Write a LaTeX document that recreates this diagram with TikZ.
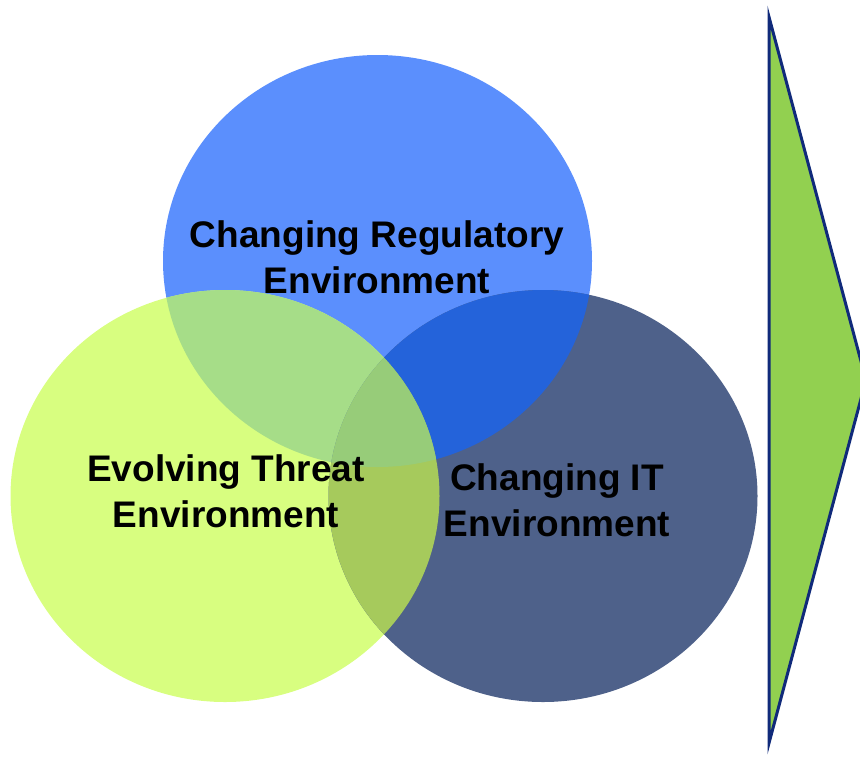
\documentclass[tikz,border=0pt]{standalone}
\usepackage{fontspec}
\setmainfont{Liberation Sans}
\usetikzlibrary{shapes.geometric}

\definecolor{regblue}{RGB}{91,143,253}
\definecolor{threatgreen}{RGB}{216,254,128}
\definecolor{itnavy}{RGB}{78,97,138}
\definecolor{regthreat}{RGB}{166,221,136}
\definecolor{regit}{RGB}{36,99,218}
\definecolor{threatit}{RGB}{166,202,92}
\definecolor{allthree}{RGB}{151,204,121}
\definecolor{arrowfill}{RGB}{146,208,80}
\definecolor{arrowedge}{RGB}{16,42,122}

\begin{document}
\begin{tikzpicture}[x=0.5pt,y=-0.5pt,
    venn/.style={ellipse, minimum width=214.5pt, minimum height=206pt, inner sep=0pt},
    vennlabel/.style={font=\fontsize{18.5}{23}\selectfont\bfseries, align=center, text=black},
    bigarrow/.style={fill=arrowfill, draw=arrowedge, line width=1.5pt, line join=miter}]
    \clip (0,0) rectangle (860,756);

    % centres of the three sets
    \coordinate (regc) at (377.5,261);
    \coordinate (threatc) at (225,496);
    \coordinate (itc) at (543,496);

    % the three sets
    \node[venn, fill=regblue] (reg) at (regc) {};
    \node[venn, fill=threatgreen] (threat) at (threatc) {};
    \node[venn, fill=itnavy] (it) at (itc) {};

    % overlaps, each filled in its own colour
    \begin{scope}
        \clip (regc) ellipse [x radius=214.5, y radius=206];
        \fill[regthreat] (threatc) ellipse [x radius=214.5, y radius=206];
        \fill[regit] (itc) ellipse [x radius=214.5, y radius=206];
    \end{scope}
    \begin{scope}
        \clip (threatc) ellipse [x radius=214.5, y radius=206];
        \fill[threatit] (itc) ellipse [x radius=214.5, y radius=206];
        \clip (regc) ellipse [x radius=214.5, y radius=206];
        \fill[allthree] (itc) ellipse [x radius=214.5, y radius=206];
    \end{scope}

    % labels
    \node[vennlabel] (reglabel) at (377,257) {Changing Regulatory\\Environment};
    \node[vennlabel] (threatlabel) at (226,491) {Evolving Threat\\Environment};
    \node[vennlabel] (itlabel) at (557,500) {Changing IT\\Environment};

    % arrow on the right
    \draw[bigarrow] (769,17) -- (866,380) -- (769,743) -- cycle;
\end{tikzpicture}
\end{document}
